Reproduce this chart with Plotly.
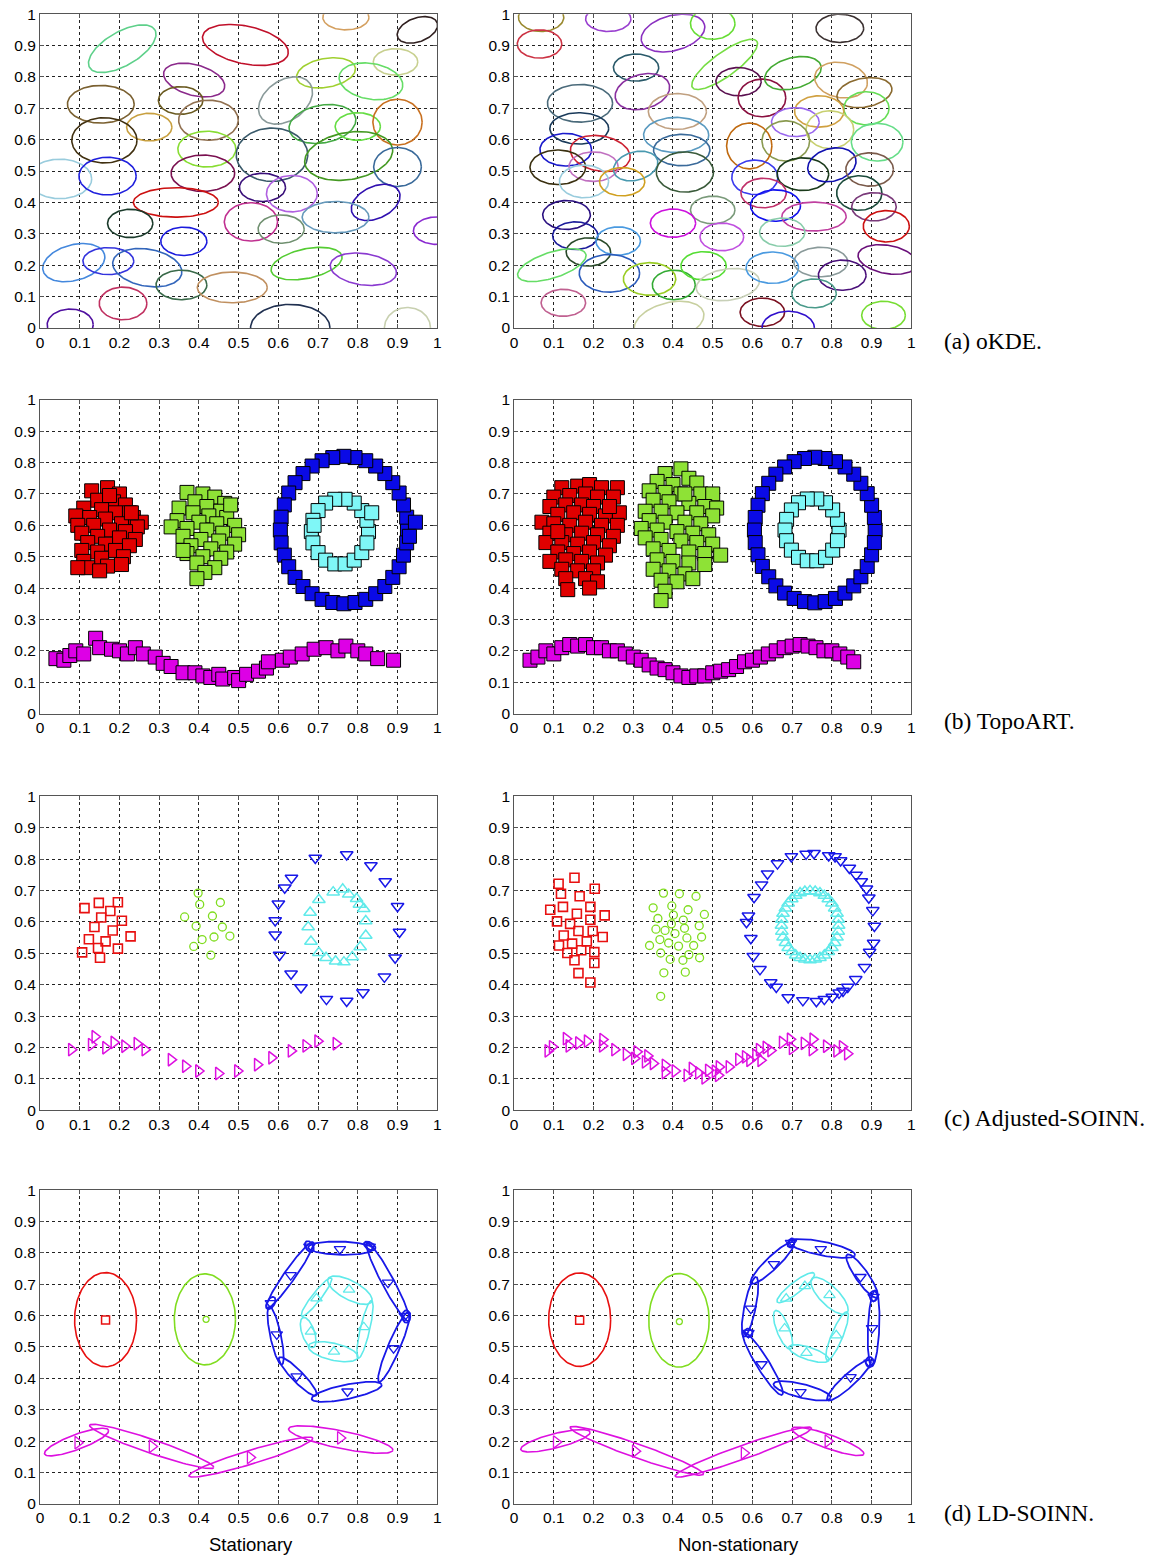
import numpy as np
import plotly.graph_objects as go

# ---------------------------------------------------------------- data
TICKS = [0, 0.1, 0.2, 0.3, 0.4, 0.5, 0.6, 0.7, 0.8, 0.9, 1]
TICK_LABELS = ["0", "0.1", "0.2", "0.3", "0.4", "0.5", "0.6", "0.7", "0.8", "0.9", "1"]
ROW_LABELS = ["(a) oKDE.", "(b) TopoART.", "(c) Adjusted-SOINN.", "(d) LD-SOINN."]
COL_LABELS = ["Stationary", "Non-stationary"]

# oKDE ellipses: (cx, cy, rx, ry, angle_deg)
okde_stat = [
    (0.207, 0.890, 0.095, 0.054, 30), (0.517, 0.902, 0.110, 0.060, -12), (0.770, 0.990, 0.058, 0.040, 0),
    (0.950, 0.950, 0.053, 0.038, 20), (0.895, 0.848, 0.056, 0.042, 0), (0.388, 0.790, 0.079, 0.049, -15),
    (0.720, 0.813, 0.075, 0.046, 10), (0.833, 0.786, 0.081, 0.057, -10), (0.618, 0.725, 0.075, 0.064, 35),
    (0.153, 0.713, 0.084, 0.060, 0), (0.354, 0.725, 0.056, 0.044, 0), (0.424, 0.662, 0.075, 0.064, 0),
    (0.275, 0.640, 0.057, 0.044, 0), (0.162, 0.598, 0.082, 0.072, 0), (0.711, 0.650, 0.085, 0.060, 10),
    (0.800, 0.642, 0.057, 0.044, 0), (0.900, 0.656, 0.062, 0.073, 0), (0.420, 0.570, 0.073, 0.057, 0),
    (0.584, 0.552, 0.090, 0.085, 0), (0.777, 0.548, 0.112, 0.075, 10), (0.900, 0.513, 0.060, 0.062, 0),
    (0.050, 0.475, 0.080, 0.063, 0), (0.170, 0.484, 0.072, 0.060, 0), (0.410, 0.493, 0.080, 0.058, 0),
    (0.560, 0.448, 0.058, 0.045, 0), (0.634, 0.428, 0.064, 0.058, 0), (0.342, 0.400, 0.107, 0.047, 0),
    (0.845, 0.400, 0.065, 0.051, 25), (0.744, 0.353, 0.084, 0.050, 0), (0.531, 0.338, 0.067, 0.061, 0),
    (0.607, 0.315, 0.058, 0.045, 0), (0.227, 0.333, 0.057, 0.045, 0), (0.362, 0.276, 0.058, 0.045, 0),
    (1.000, 0.310, 0.060, 0.044, 0), (0.085, 0.208, 0.080, 0.057, 15), (0.172, 0.213, 0.064, 0.043, 0),
    (0.270, 0.192, 0.088, 0.059, -10), (0.356, 0.137, 0.064, 0.047, 0), (0.484, 0.129, 0.088, 0.049, 0),
    (0.671, 0.205, 0.091, 0.047, 12), (0.814, 0.187, 0.084, 0.050, -8), (0.209, 0.078, 0.060, 0.052, 0),
    (0.076, 0.010, 0.058, 0.050, 0), (0.630, 0.000, 0.100, 0.075, 0), (0.925, 0.000, 0.058, 0.065, 0),
]
okde_stat_colors = [
    "#5ed08a", "#c0102a", "#d4a060", "#302020", "#c8d090", "#8b2a8b",
    "#a0d030", "#66dd66", "#8a9a9a", "#7a6030", "#6a5a20", "#907050",
    "#c8a040", "#403010", "#44aa44", "#66dd44", "#c87020", "#88dd33",
    "#3a5a6a", "#449922", "#3a6a9a", "#99ccdd", "#1f1fdd", "#7a1050",
    "#3a107a", "#b060e0", "#cc1010", "#3010b0", "#6699bb", "#c03090",
    "#709070", "#1a3a2a", "#1a1add", "#8a2ad0", "#4488dd", "#3333dd",
    "#3366bb", "#3a6a4a", "#c09060", "#55cc33", "#8a3ad0", "#c03060",
    "#5010a0", "#203050", "#c8d0b0",
]

okde_nonstat = [
    (0.068, 0.990, 0.057, 0.045, 0), (0.064, 0.905, 0.056, 0.045, 0), (0.237, 0.985, 0.057, 0.040, 0),
    (0.400, 0.940, 0.082, 0.056, 15), (0.500, 0.970, 0.056, 0.050, 0), (0.820, 0.955, 0.060, 0.045, 0),
    (0.530, 0.840, 0.100, 0.038, 36), (0.307, 0.830, 0.057, 0.043, 0), (0.323, 0.753, 0.070, 0.055, 15),
    (0.166, 0.716, 0.082, 0.060, 0), (0.411, 0.690, 0.073, 0.057, 0), (0.565, 0.785, 0.057, 0.045, 0),
    (0.624, 0.733, 0.060, 0.060, 0), (0.702, 0.812, 0.073, 0.049, 15), (0.823, 0.790, 0.067, 0.056, -10),
    (0.882, 0.750, 0.070, 0.046, 10), (0.887, 0.700, 0.057, 0.053, 0), (0.768, 0.690, 0.062, 0.050, 0),
    (0.708, 0.656, 0.060, 0.046, 0), (0.795, 0.632, 0.060, 0.060, 0), (0.684, 0.596, 0.060, 0.064, 0),
    (0.914, 0.592, 0.065, 0.060, 0), (0.592, 0.580, 0.057, 0.073, 0), (0.408, 0.615, 0.082, 0.056, 0),
    (0.422, 0.567, 0.071, 0.050, 0), (0.164, 0.636, 0.074, 0.050, 0), (0.130, 0.568, 0.065, 0.052, 0),
    (0.217, 0.556, 0.076, 0.056, -10), (0.200, 0.514, 0.062, 0.047, 0), (0.110, 0.512, 0.070, 0.055, 0),
    (0.176, 0.467, 0.062, 0.052, 0), (0.306, 0.516, 0.057, 0.045, 15), (0.272, 0.466, 0.057, 0.045, 0),
    (0.430, 0.497, 0.072, 0.064, 0), (0.606, 0.480, 0.058, 0.055, 0), (0.727, 0.490, 0.065, 0.052, 0),
    (0.800, 0.520, 0.062, 0.052, 15), (0.895, 0.505, 0.060, 0.053, 0), (0.628, 0.430, 0.057, 0.047, 0),
    (0.658, 0.390, 0.063, 0.050, 0), (0.869, 0.430, 0.057, 0.055, 0), (0.906, 0.386, 0.056, 0.045, 0),
    (0.755, 0.355, 0.081, 0.046, 0), (0.937, 0.324, 0.058, 0.050, 0), (0.132, 0.360, 0.060, 0.046, 0),
    (0.154, 0.294, 0.057, 0.044, 0), (0.187, 0.242, 0.056, 0.045, 0), (0.262, 0.277, 0.056, 0.045, 0),
    (0.095, 0.200, 0.090, 0.041, 18), (0.240, 0.174, 0.076, 0.060, 0), (0.341, 0.156, 0.066, 0.052, 0),
    (0.402, 0.137, 0.054, 0.047, 0), (0.477, 0.198, 0.057, 0.045, 0), (0.538, 0.138, 0.080, 0.050, 8),
    (0.390, 0.020, 0.090, 0.060, 15), (0.650, 0.192, 0.066, 0.050, 0), (0.772, 0.210, 0.068, 0.047, 0),
    (0.826, 0.168, 0.060, 0.048, 0), (0.940, 0.218, 0.075, 0.045, -10), (0.755, 0.110, 0.056, 0.046, 0),
    (0.625, 0.050, 0.056, 0.045, 0), (0.690, 0.000, 0.066, 0.053, 0), (0.930, 0.040, 0.055, 0.045, 0),
    (0.124, 0.080, 0.056, 0.043, 0), (0.500, 0.376, 0.056, 0.044, 0), (0.400, 0.334, 0.057, 0.045, 0),
    (0.523, 0.290, 0.055, 0.044, 0), (0.675, 0.305, 0.057, 0.045, 0),
]
okde_nonstat_colors = [
    "#9a8a30", "#cc3344", "#9a40d0", "#8a30c0", "#66dd33", "#3a3030",
    "#77dd44", "#2a5a6a", "#8a30a0", "#4a6a7a", "#c0a080", "#5a1050",
    "#8a1040", "#44aa33", "#d0a060", "#8a6a30", "#66dd55", "#d0a040",
    "#9966ee", "#c8d070", "#8a9a50", "#66dd88", "#c06a10", "#5a9ac0",
    "#3a6a9a", "#1a3a5a", "#1a1acc", "#cc2233", "#c070c0", "#3a3010",
    "#99ccdd", "#4a9ab0", "#d0a020", "#3a5a3a", "#3a3aee", "#1a3a1a",
    "#1010b0", "#7a5a4a", "#c0306a", "#1010ee", "#1a4a3a", "#7a3a7a",
    "#c040a0", "#cc1010", "#2a1080", "#1a1a9a", "#2a4a2a", "#4a9ae0",
    "#66dd66", "#2a5aba", "#99cc22", "#33aa33", "#55dd33", "#c8d0b8",
    "#c8d0a0", "#4a9ae0", "#8a9a9a", "#4a107a", "#6a107a", "#4a9a8a",
    "#7a1020", "#3010cc", "#77dd33", "#c06090", "#7a9a7a", "#cc10dd",
    "#c050e0", "#88ccaa",
]

# TopoART node positions (x, y)
topo_stat_red = [
    (0.13, 0.71), (0.17, 0.72), (0.20, 0.70), (0.145, 0.68), (0.185, 0.675), (0.215, 0.665), (0.11, 0.655),
    (0.155, 0.65), (0.19, 0.64), (0.225, 0.64), (0.235, 0.625), (0.255, 0.61), (0.09, 0.63), (0.125, 0.625),
    (0.165, 0.62), (0.205, 0.605), (0.245, 0.595), (0.095, 0.60), (0.135, 0.60), (0.175, 0.585), (0.215, 0.58),
    (0.105, 0.575), (0.145, 0.565), (0.20, 0.56), (0.24, 0.555), (0.12, 0.545), (0.165, 0.54), (0.225, 0.535),
    (0.105, 0.52), (0.145, 0.515), (0.19, 0.52), (0.21, 0.50), (0.155, 0.495), (0.11, 0.485), (0.17, 0.47),
    (0.205, 0.475), (0.12, 0.465), (0.15, 0.455), (0.095, 0.465), (0.23, 0.64), (0.175, 0.695),
]
topo_stat_green = [
    (0.37, 0.705), (0.41, 0.70), (0.44, 0.69), (0.39, 0.675), (0.465, 0.67), (0.35, 0.655), (0.42, 0.66),
    (0.455, 0.645), (0.385, 0.64), (0.425, 0.63), (0.47, 0.625), (0.345, 0.615), (0.40, 0.61), (0.445, 0.605),
    (0.49, 0.60), (0.33, 0.595), (0.37, 0.59), (0.42, 0.585), (0.46, 0.575), (0.50, 0.57), (0.36, 0.565),
    (0.405, 0.555), (0.45, 0.55), (0.49, 0.54), (0.38, 0.535), (0.43, 0.525), (0.47, 0.515), (0.37, 0.51),
    (0.41, 0.50), (0.455, 0.495), (0.395, 0.48), (0.44, 0.465), (0.415, 0.45), (0.395, 0.43), (0.36, 0.52),
    (0.48, 0.665),
]
topo_stat_blue = [
    (0.925, 0.585), (0.923, 0.626), (0.915, 0.665), (0.904, 0.703), (0.888, 0.736), (0.868, 0.765),
    (0.845, 0.789), (0.820, 0.806), (0.793, 0.816), (0.765, 0.820), (0.737, 0.816), (0.710, 0.806),
    (0.685, 0.789), (0.662, 0.765), (0.642, 0.736), (0.626, 0.703), (0.615, 0.665), (0.607, 0.626),
    (0.605, 0.585), (0.607, 0.544), (0.615, 0.505), (0.626, 0.468), (0.642, 0.434), (0.662, 0.405),
    (0.685, 0.382), (0.710, 0.364), (0.737, 0.354), (0.765, 0.350), (0.793, 0.354), (0.820, 0.364),
    (0.845, 0.382), (0.868, 0.405), (0.888, 0.434), (0.904, 0.468), (0.915, 0.505), (0.923, 0.544),
    (0.945, 0.610), (0.930, 0.565),
]
topo_stat_cyan = [
    (0.827, 0.580), (0.823, 0.616), (0.810, 0.647), (0.791, 0.671), (0.768, 0.683), (0.742, 0.683),
    (0.719, 0.671), (0.700, 0.647), (0.687, 0.616), (0.683, 0.580), (0.687, 0.544), (0.700, 0.513),
    (0.719, 0.489), (0.742, 0.477), (0.768, 0.477), (0.791, 0.489), (0.810, 0.513), (0.823, 0.544),
    (0.835, 0.640), (0.690, 0.600),
]
topo_stat_magenta = [
    (0.04, 0.175), (0.06, 0.17), (0.075, 0.185), (0.09, 0.20), (0.11, 0.19), (0.14, 0.24), (0.15, 0.21),
    (0.18, 0.205), (0.20, 0.20), (0.22, 0.19), (0.24, 0.21), (0.26, 0.19), (0.29, 0.18), (0.31, 0.16),
    (0.33, 0.15), (0.36, 0.13), (0.39, 0.13), (0.41, 0.12), (0.43, 0.115), (0.45, 0.125), (0.46, 0.11),
    (0.49, 0.115), (0.50, 0.105), (0.52, 0.125), (0.55, 0.135), (0.57, 0.145), (0.575, 0.165), (0.61, 0.17),
    (0.63, 0.18), (0.66, 0.19), (0.69, 0.205), (0.72, 0.21), (0.75, 0.20), (0.77, 0.215), (0.80, 0.20),
    (0.82, 0.19), (0.85, 0.175), (0.89, 0.17),
]

topo_nonstat_red = [
    (0.12, 0.72), (0.16, 0.725), (0.19, 0.73), (0.22, 0.72), (0.26, 0.72), (0.10, 0.69), (0.14, 0.695),
    (0.18, 0.70), (0.21, 0.69), (0.25, 0.69), (0.09, 0.66), (0.13, 0.665), (0.17, 0.665), (0.20, 0.66),
    (0.24, 0.655), (0.11, 0.635), (0.15, 0.64), (0.19, 0.635), (0.23, 0.63), (0.265, 0.64), (0.07, 0.61),
    (0.10, 0.605), (0.14, 0.60), (0.18, 0.61), (0.22, 0.60), (0.26, 0.60), (0.09, 0.575), (0.13, 0.57),
    (0.17, 0.575), (0.21, 0.57), (0.25, 0.565), (0.08, 0.545), (0.12, 0.545), (0.16, 0.54), (0.20, 0.545),
    (0.24, 0.535), (0.11, 0.515), (0.15, 0.51), (0.19, 0.515), (0.23, 0.505), (0.09, 0.485), (0.13, 0.49),
    (0.17, 0.485), (0.21, 0.48), (0.12, 0.46), (0.16, 0.455), (0.20, 0.455), (0.13, 0.43), (0.18, 0.43),
    (0.21, 0.42), (0.135, 0.395), (0.19, 0.40), (0.11, 0.58), (0.24, 0.66),
]
topo_nonstat_green = [
    (0.42, 0.78), (0.38, 0.765), (0.44, 0.75), (0.36, 0.74), (0.40, 0.73), (0.46, 0.735), (0.34, 0.71),
    (0.38, 0.705), (0.42, 0.70), (0.47, 0.70), (0.50, 0.70), (0.35, 0.68), (0.39, 0.675), (0.44, 0.67),
    (0.48, 0.66), (0.51, 0.655), (0.33, 0.645), (0.37, 0.645), (0.41, 0.64), (0.46, 0.64), (0.50, 0.63),
    (0.34, 0.615), (0.38, 0.61), (0.43, 0.61), (0.47, 0.605), (0.32, 0.59), (0.36, 0.585), (0.41, 0.58),
    (0.45, 0.575), (0.49, 0.57), (0.33, 0.56), (0.37, 0.555), (0.42, 0.55), (0.46, 0.545), (0.50, 0.54),
    (0.35, 0.525), (0.39, 0.52), (0.44, 0.515), (0.48, 0.51), (0.52, 0.505), (0.36, 0.49), (0.40, 0.485),
    (0.44, 0.48), (0.48, 0.475), (0.35, 0.46), (0.39, 0.455), (0.43, 0.445), (0.37, 0.425), (0.41, 0.42),
    (0.45, 0.43), (0.38, 0.39), (0.37, 0.36), (0.43, 0.70),
]
topo_nonstat_blue = [
    (0.909, 0.585), (0.907, 0.625), (0.900, 0.664), (0.889, 0.701), (0.873, 0.734), (0.855, 0.763),
    (0.833, 0.786), (0.809, 0.803), (0.783, 0.813), (0.757, 0.817), (0.731, 0.813), (0.705, 0.803),
    (0.681, 0.786), (0.659, 0.763), (0.641, 0.734), (0.625, 0.701), (0.614, 0.664), (0.607, 0.625),
    (0.605, 0.585), (0.607, 0.545), (0.614, 0.506), (0.625, 0.469), (0.641, 0.436), (0.659, 0.407),
    (0.681, 0.384), (0.705, 0.367), (0.731, 0.357), (0.757, 0.353), (0.783, 0.357), (0.809, 0.367),
    (0.833, 0.384), (0.855, 0.407), (0.873, 0.436), (0.889, 0.469), (0.900, 0.506), (0.907, 0.545),
]
topo_nonstat_cyan = [
    (0.818, 0.585), (0.814, 0.619), (0.802, 0.649), (0.784, 0.672), (0.762, 0.684), (0.738, 0.684),
    (0.716, 0.672), (0.698, 0.649), (0.686, 0.619), (0.682, 0.585), (0.686, 0.551), (0.698, 0.521),
    (0.716, 0.498), (0.738, 0.487), (0.762, 0.487), (0.784, 0.498), (0.802, 0.521), (0.814, 0.551),
]
topo_nonstat_magenta = [
    (0.04, 0.17), (0.06, 0.18), (0.08, 0.20), (0.10, 0.19), (0.12, 0.21), (0.14, 0.22), (0.16, 0.215),
    (0.18, 0.22), (0.20, 0.21), (0.22, 0.21), (0.24, 0.20), (0.26, 0.20), (0.28, 0.19), (0.30, 0.18),
    (0.32, 0.17), (0.34, 0.155), (0.36, 0.145), (0.38, 0.14), (0.40, 0.13), (0.42, 0.12), (0.44, 0.115),
    (0.46, 0.12), (0.48, 0.12), (0.50, 0.13), (0.52, 0.135), (0.54, 0.14), (0.56, 0.15), (0.58, 0.165),
    (0.60, 0.17), (0.62, 0.18), (0.64, 0.19), (0.66, 0.20), (0.68, 0.21), (0.70, 0.215), (0.72, 0.22),
    (0.74, 0.215), (0.76, 0.21), (0.78, 0.20), (0.80, 0.20), (0.82, 0.19), (0.84, 0.18), (0.855, 0.165),
]

# Adjusted-SOINN node positions (x, y)
soinn_stat_red = [
    (0.112, 0.644), (0.148, 0.661), (0.196, 0.663), (0.177, 0.635), (0.154, 0.614), (0.206, 0.604),
    (0.137, 0.584), (0.183, 0.573), (0.228, 0.554), (0.123, 0.545), (0.165, 0.538), (0.146, 0.517),
    (0.196, 0.515), (0.106, 0.503), (0.151, 0.486),
]
soinn_stat_green = [
    (0.398, 0.692), (0.402, 0.656), (0.454, 0.662), (0.364, 0.616), (0.434, 0.619), (0.393, 0.587),
    (0.459, 0.584), (0.478, 0.555), (0.438, 0.552), (0.408, 0.544), (0.387, 0.522), (0.430, 0.494),
]
soinn_stat_blue = [
    (0.693, 0.804), (0.772, 0.815), (0.833, 0.780), (0.869, 0.729), (0.633, 0.740), (0.616, 0.709),
    (0.600, 0.658), (0.592, 0.605), (0.592, 0.559), (0.603, 0.495), (0.632, 0.435), (0.657, 0.391),
    (0.721, 0.354), (0.772, 0.348), (0.813, 0.375), (0.867, 0.425), (0.894, 0.486), (0.905, 0.568),
    (0.900, 0.650),
]
soinn_stat_cyan = [
    (0.738, 0.695), (0.762, 0.704), (0.777, 0.688), (0.797, 0.674), (0.804, 0.656), (0.815, 0.642),
    (0.820, 0.603), (0.820, 0.557), (0.806, 0.520), (0.786, 0.488), (0.765, 0.472), (0.744, 0.475),
    (0.720, 0.486), (0.702, 0.502), (0.682, 0.538), (0.675, 0.584), (0.680, 0.630), (0.702, 0.671),
]
soinn_stat_magenta = [
    (0.079, 0.193), (0.129, 0.209), (0.138, 0.234), (0.165, 0.199), (0.186, 0.216), (0.213, 0.204),
    (0.244, 0.212), (0.264, 0.193), (0.330, 0.161), (0.366, 0.140), (0.399, 0.125), (0.449, 0.117),
    (0.497, 0.125), (0.547, 0.145), (0.583, 0.167), (0.632, 0.189), (0.669, 0.205), (0.699, 0.220),
    (0.745, 0.212),
]

soinn_nonstat_red = [
    (0.152, 0.741), (0.112, 0.722), (0.118, 0.690), (0.203, 0.706), (0.165, 0.682), (0.123, 0.648),
    (0.192, 0.648), (0.091, 0.639), (0.158, 0.626), (0.228, 0.621), (0.108, 0.602), (0.192, 0.607),
    (0.141, 0.594), (0.198, 0.571), (0.162, 0.571), (0.125, 0.557), (0.223, 0.552), (0.183, 0.538),
    (0.146, 0.531), (0.113, 0.525), (0.169, 0.510), (0.202, 0.504), (0.134, 0.501), (0.152, 0.478),
    (0.202, 0.469), (0.162, 0.437), (0.192, 0.407),
]
soinn_nonstat_green = [
    (0.376, 0.692), (0.416, 0.690), (0.458, 0.682), (0.350, 0.645), (0.397, 0.651), (0.438, 0.639),
    (0.479, 0.624), (0.362, 0.611), (0.401, 0.622), (0.426, 0.606), (0.466, 0.588), (0.357, 0.577),
    (0.396, 0.594), (0.380, 0.573), (0.429, 0.580), (0.405, 0.563), (0.367, 0.544), (0.435, 0.549),
    (0.472, 0.552), (0.389, 0.533), (0.341, 0.525), (0.414, 0.523), (0.452, 0.525), (0.369, 0.501),
    (0.440, 0.496), (0.393, 0.481), (0.425, 0.478), (0.467, 0.486), (0.377, 0.438), (0.431, 0.440),
    (0.369, 0.363),
]
soinn_nonstat_blue = [
    (0.698, 0.809), (0.735, 0.817), (0.755, 0.819), (0.792, 0.812), (0.808, 0.809), (0.822, 0.796),
    (0.844, 0.772), (0.861, 0.750), (0.874, 0.729), (0.887, 0.706), (0.893, 0.677), (0.903, 0.637),
    (0.907, 0.587), (0.905, 0.533), (0.895, 0.504), (0.882, 0.456), (0.860, 0.417), (0.840, 0.393),
    (0.828, 0.380), (0.818, 0.374), (0.801, 0.361), (0.781, 0.354), (0.761, 0.347), (0.727, 0.350),
    (0.690, 0.359), (0.660, 0.393), (0.646, 0.407), (0.619, 0.449), (0.602, 0.491), (0.596, 0.548),
    (0.585, 0.599), (0.590, 0.620), (0.604, 0.679), (0.623, 0.719), (0.638, 0.754), (0.663, 0.786),
]
soinn_nonstat_cyan = [
    (0.817, 0.589), (0.816, 0.608), (0.813, 0.627), (0.807, 0.644), (0.800, 0.660), (0.791, 0.673),
    (0.781, 0.684), (0.770, 0.692), (0.758, 0.697), (0.745, 0.699), (0.732, 0.697), (0.720, 0.692),
    (0.709, 0.684), (0.699, 0.673), (0.690, 0.660), (0.683, 0.644), (0.677, 0.627), (0.674, 0.608),
    (0.673, 0.589), (0.674, 0.570), (0.677, 0.551), (0.683, 0.534), (0.690, 0.518), (0.699, 0.505),
    (0.709, 0.494), (0.720, 0.486), (0.732, 0.481), (0.745, 0.479), (0.758, 0.481), (0.770, 0.486),
    (0.781, 0.494), (0.791, 0.505), (0.800, 0.518), (0.807, 0.534), (0.813, 0.551), (0.816, 0.570),
]
soinn_nonstat_magenta = [
    (0.085, 0.189), (0.096, 0.202), (0.131, 0.228), (0.138, 0.205), (0.162, 0.214), (0.184, 0.220),
    (0.223, 0.225), (0.222, 0.205), (0.253, 0.193), (0.282, 0.178), (0.303, 0.165), (0.309, 0.186),
    (0.330, 0.154), (0.336, 0.173), (0.350, 0.149), (0.380, 0.143), (0.380, 0.120), (0.405, 0.125),
    (0.435, 0.111), (0.448, 0.133), (0.464, 0.119), (0.480, 0.103), (0.489, 0.127), (0.506, 0.124),
    (0.514, 0.111), (0.516, 0.138), (0.541, 0.138), (0.565, 0.162), (0.582, 0.170), (0.593, 0.159),
    (0.608, 0.175), (0.617, 0.193), (0.634, 0.200), (0.621, 0.159), (0.646, 0.190), (0.675, 0.216),
    (0.695, 0.226), (0.700, 0.197), (0.730, 0.213), (0.752, 0.226), (0.750, 0.193), (0.786, 0.204),
    (0.812, 0.189), (0.826, 0.202), (0.839, 0.180),
]

# LD-SOINN: node positions (x, y) and covariance ellipses (cx, cy, rx, ry, angle_deg)
ld_stat_red_nodes = [(0.165, 0.586)]
ld_stat_red_ell = [(0.165, 0.587, 0.078, 0.150, 0)]
ld_stat_green_nodes = [(0.418, 0.588)]
ld_stat_green_ell = [(0.415, 0.588, 0.077, 0.145, 0)]
ld_stat_blue_nodes = [
    (0.755, 0.812), (0.876, 0.705), (0.918, 0.599), (0.890, 0.496), (0.774, 0.358), (0.646, 0.406),
    (0.596, 0.540), (0.581, 0.640), (0.631, 0.729), (0.678, 0.820), (0.830, 0.820),
]
ld_stat_blue_ell = [
    (0.757, 0.815, 0.082, 0.021, -1.5), (0.876, 0.707, 0.112, 0.019, -62), (0.891, 0.500, 0.096, 0.019, 67),
    (0.772, 0.357, 0.090, 0.023, 11.6), (0.649, 0.406, 0.067, 0.018, -45.8), (0.593, 0.536, 0.075, 0.017, -78),
    (0.581, 0.640, 0.017, 0.012, 60), (0.629, 0.729, 0.102, 0.018, 55), (0.678, 0.820, 0.015, 0.012, -60),
    (0.922, 0.597, 0.010, 0.020, 0), (0.830, 0.822, 0.016, 0.011, -30),
]
ld_stat_cyan_nodes = [(0.696, 0.655), (0.778, 0.683), (0.815, 0.563), (0.740, 0.485), (0.682, 0.549)]
ld_stat_cyan_ell = [
    (0.696, 0.659, 0.061, 0.014, 52), (0.780, 0.681, 0.062, 0.030, -28), (0.818, 0.556, 0.075, 0.015, 77),
    (0.738, 0.485, 0.064, 0.027, -13), (0.675, 0.546, 0.040, 0.020, -71.5),
]
ld_stat_magenta_nodes = [(0.095, 0.195), (0.282, 0.183), (0.529, 0.148), (0.756, 0.210)]
ld_stat_magenta_ell = [
    (0.092, 0.197, 0.086, 0.024, 20.5), (0.281, 0.183, 0.165, 0.022, -18.9),
    (0.531, 0.149, 0.163, 0.022, 17), (0.757, 0.205, 0.134, 0.028, -11.7),
]

ld_nonstat_red_nodes = [(0.165, 0.585)]
ld_nonstat_red_ell = [(0.165, 0.587, 0.078, 0.149, 0)]
ld_nonstat_green_nodes = [(0.416, 0.581)]
ld_nonstat_green_ell = [(0.415, 0.585, 0.076, 0.149, 0)]
ld_nonstat_blue_nodes = [
    (0.772, 0.812), (0.872, 0.723), (0.901, 0.560), (0.847, 0.404), (0.721, 0.356), (0.623, 0.445),
    (0.596, 0.622), (0.654, 0.764), (0.697, 0.832), (0.905, 0.660), (0.895, 0.450), (0.590, 0.545),
]
ld_nonstat_blue_ell = [
    (0.775, 0.814, 0.085, 0.022, -11.4), (0.876, 0.726, 0.066, 0.020, -55.3), (0.905, 0.560, 0.096, 0.018, 87.5),
    (0.843, 0.394, 0.074, 0.020, 42.7), (0.725, 0.360, 0.074, 0.022, -14), (0.626, 0.447, 0.093, 0.020, -58.4),
    (0.594, 0.628, 0.077, 0.018, 78.4), (0.650, 0.768, 0.075, 0.020, 43.9), (0.697, 0.832, 0.012, 0.010, 60),
    (0.905, 0.662, 0.010, 0.016, 0), (0.895, 0.452, 0.010, 0.016, 0), (0.590, 0.545, 0.010, 0.014, 30),
]
ld_nonstat_cyan_nodes = [(0.732, 0.694), (0.794, 0.665), (0.811, 0.537), (0.736, 0.481), (0.681, 0.559), (0.685, 0.654)]
ld_nonstat_cyan_ell = [
    (0.709, 0.689, 0.059, 0.018, 38), (0.794, 0.663, 0.062, 0.030, -45), (0.813, 0.535, 0.066, 0.018, 67.5),
    (0.742, 0.479, 0.053, 0.020, -18.4), (0.677, 0.555, 0.052, 0.020, -68.6),
]
ld_nonstat_magenta_nodes = [(0.106, 0.197), (0.305, 0.168), (0.579, 0.162), (0.790, 0.200)]
ld_nonstat_magenta_ell = [
    (0.104, 0.201, 0.090, 0.023, 14.2), (0.309, 0.169, 0.178, 0.022, -19.5),
    (0.577, 0.165, 0.182, 0.022, 19.6), (0.790, 0.199, 0.096, 0.022, -19.5),
]

# ---------------------------------------------------------------- layout geometry
FIG_W, FIG_H = 1153, 1559
# target positions (pixels in the reference picture)
COL_PX = [(39, 437), (514, 912)]
ROW_PX = [(13, 327), (399, 713), (796, 1110), (1190, 1504)]
# the captured page comes out slightly shrunk about its centre; compensate
CAP_SCALE_X, CAP_SCALE_Y = 0.995, 0.99
CAP_OFF_X, CAP_OFF_Y = 2.9, 7.8


def fig_px_x(p):
    return (p - CAP_OFF_X) / CAP_SCALE_X


def fig_px_y(p):
    return (p - CAP_OFF_Y) / CAP_SCALE_Y


def paper_x(p):
    return fig_px_x(p) / FIG_W


def paper_y(p):
    return 1 - fig_px_y(p) / FIG_H


PLOT_W = fig_px_x(COL_PX[0][1]) - fig_px_x(COL_PX[0][0])
PLOT_H = fig_px_y(ROW_PX[0][1]) - fig_px_y(ROW_PX[0][0])

RED, GREEN, BLUE, CYAN, MAGENTA = "#e00000", "#8ee236", "#0a0ae6", "#7ff7f7", "#dd00e6"
LRED, LGREEN, LBLUE, LCYAN, LMAG = "#e81010", "#80dd20", "#1818e8", "#60eaea", "#dd10e0"

fig = go.Figure()


def axref(r, c):
    i = r * 2 + c + 1
    return ("x" if i == 1 else f"x{i}"), ("y" if i == 1 else f"y{i}")


def ellipse_xy(cx, cy, rx, ry, ang, n=120):
    t = np.linspace(0, 2 * np.pi, n)
    sx, sy = rx * PLOT_W, ry * PLOT_H
    a = np.radians(ang)
    px = sx * np.cos(t) * np.cos(a) - sy * np.sin(t) * np.sin(a)
    py = sx * np.cos(t) * np.sin(a) + sy * np.sin(t) * np.cos(a)
    return cx + px / PLOT_W, cy + py / PLOT_H


def add_ellipses(r, c, ells, colors, width=1.6):
    xa, ya = axref(r, c)
    for e, col in zip(ells, colors):
        x, y = ellipse_xy(*e)
        fig.add_trace(go.Scatter(x=x, y=y, mode="lines", xaxis=xa, yaxis=ya,
                                 line=dict(color=col, width=width), hoverinfo="skip",
                                 showlegend=False))


def add_points(r, c, pts, symbol, color, size, line_color=None, line_width=1.0):
    xa, ya = axref(r, c)
    xs = [p[0] for p in pts]
    ys = [p[1] for p in pts]
    filled = not symbol.endswith("open")
    marker = dict(symbol=symbol, size=size)
    if filled:
        marker.update(color=color, line=dict(color=line_color or "black", width=line_width))
    else:
        marker.update(color=color, line=dict(color=color, width=line_width))
    fig.add_trace(go.Scatter(x=xs, y=ys, mode="markers", xaxis=xa, yaxis=ya, marker=marker,
                             hoverinfo="skip", showlegend=False, cliponaxis=True))


# (a) oKDE
add_ellipses(0, 0, okde_stat, okde_stat_colors)
add_ellipses(0, 1, okde_nonstat, okde_nonstat_colors)

# (b) TopoART
for c, (rd, gr, bl, cy, mg) in enumerate([
    (topo_stat_red, topo_stat_green, topo_stat_blue, topo_stat_cyan, topo_stat_magenta),
    (topo_nonstat_red, topo_nonstat_green, topo_nonstat_blue, topo_nonstat_cyan, topo_nonstat_magenta),
]):
    add_points(1, c, rd, "square", RED, 14)
    add_points(1, c, gr, "square", GREEN, 14)
    add_points(1, c, bl, "square", BLUE, 14)
    add_points(1, c, cy, "square", CYAN, 14)
    add_points(1, c, mg, "square", MAGENTA, 14)

# (c) Adjusted-SOINN
for c, (rd, gr, bl, cy, mg) in enumerate([
    (soinn_stat_red, soinn_stat_green, soinn_stat_blue, soinn_stat_cyan, soinn_stat_magenta),
    (soinn_nonstat_red, soinn_nonstat_green, soinn_nonstat_blue, soinn_nonstat_cyan, soinn_nonstat_magenta),
]):
    add_points(2, c, rd, "square-open", LRED, 9, line_width=1.6)
    add_points(2, c, gr, "circle-open", LGREEN, 8, line_width=1.3)
    add_points(2, c, bl, "triangle-down-open", LBLUE, 11, line_width=1.5)
    add_points(2, c, cy, "triangle-up-open", LCYAN, 11, line_width=1.5)
    add_points(2, c, mg, "triangle-right-open", LMAG, 11, line_width=1.5)

# (d) LD-SOINN
ld_sets = [
    (ld_stat_red_ell, ld_stat_red_nodes, ld_stat_green_ell, ld_stat_green_nodes, ld_stat_blue_ell,
     ld_stat_blue_nodes, ld_stat_cyan_ell, ld_stat_cyan_nodes, ld_stat_magenta_ell, ld_stat_magenta_nodes),
    (ld_nonstat_red_ell, ld_nonstat_red_nodes, ld_nonstat_green_ell, ld_nonstat_green_nodes, ld_nonstat_blue_ell,
     ld_nonstat_blue_nodes, ld_nonstat_cyan_ell, ld_nonstat_cyan_nodes, ld_nonstat_magenta_ell,
     ld_nonstat_magenta_nodes),
]
for c, (re_, rn, ge, gn, be, bn, ce, cn, me, mn) in enumerate(ld_sets):
    add_ellipses(3, c, re_, [LRED] * len(re_), width=1.6)
    add_ellipses(3, c, ge, [LGREEN] * len(ge), width=1.6)
    add_ellipses(3, c, be, [LBLUE] * len(be), width=1.8)
    add_ellipses(3, c, ce, [LCYAN] * len(ce), width=1.6)
    add_ellipses(3, c, me, [LMAG] * len(me), width=1.6)
    add_points(3, c, rn, "square-open", LRED, 8, line_width=1.5)
    add_points(3, c, gn, "circle-open", LGREEN, 6, line_width=1.3)
    add_points(3, c, bn, "triangle-down-open", LBLUE, 10, line_width=1.3)
    add_points(3, c, cn, "triangle-up-open", LCYAN, 10, line_width=1.3)
    add_points(3, c, mn, "triangle-right-open", LMAG, 11, line_width=1.3)

# ---------------------------------------------------------------- axes
tick_font = dict(family="Liberation Sans, Arial, sans-serif", size=15.5, color="black")
axis_common = dict(range=[0, 1], tickmode="array", tickvals=TICKS, ticktext=TICK_LABELS,
                   showgrid=True, gridcolor="#222222", griddash="dot", gridwidth=1,
                   showline=True, linecolor="#555555", linewidth=1, mirror="ticks",
                   ticks="inside", ticklen=4, tickcolor="#555555", tickfont=tick_font,
                   zeroline=False, fixedrange=True)
layout_axes = {}
for r in range(4):
    for c in range(2):
        i = r * 2 + c + 1
        xa, ya = axref(r, c)
        x0, x1 = COL_PX[c]
        y0, y1 = ROW_PX[r]
        layout_axes["xaxis" if i == 1 else f"xaxis{i}"] = dict(
            axis_common, domain=[paper_x(x0), paper_x(x1)], anchor=ya)
        layout_axes["yaxis" if i == 1 else f"yaxis{i}"] = dict(
            axis_common, domain=[paper_y(y1), paper_y(y0)], anchor=xa)

annotations = []
row_label_y = [340, 720, 1118, 1513]
for lab, yp in zip(ROW_LABELS, row_label_y):
    annotations.append(dict(text=lab, xref="paper", yref="paper", x=paper_x(943), y=paper_y(yp),
                            xanchor="left", yanchor="middle", showarrow=False,
                            font=dict(family="Liberation Serif, Times New Roman, serif", size=23.5,
                                      color="black")))
for lab, xp in zip(COL_LABELS, [250, 739]):
    annotations.append(dict(text=lab, xref="paper", yref="paper", x=paper_x(xp), y=paper_y(1545),
                            xanchor="center", yanchor="middle", showarrow=False,
                            font=dict(family="Liberation Sans, Arial, sans-serif", size=18.5,
                                      color="black")))

fig.update_layout(width=FIG_W, height=FIG_H, margin=dict(l=0, r=0, t=0, b=0),
                  paper_bgcolor="white", plot_bgcolor="white", showlegend=False,
                  annotations=annotations, **layout_axes)

fig.write_html("out.html", config={"displayModeBar": False},
               post_script="document.body.style.margin='0';")
